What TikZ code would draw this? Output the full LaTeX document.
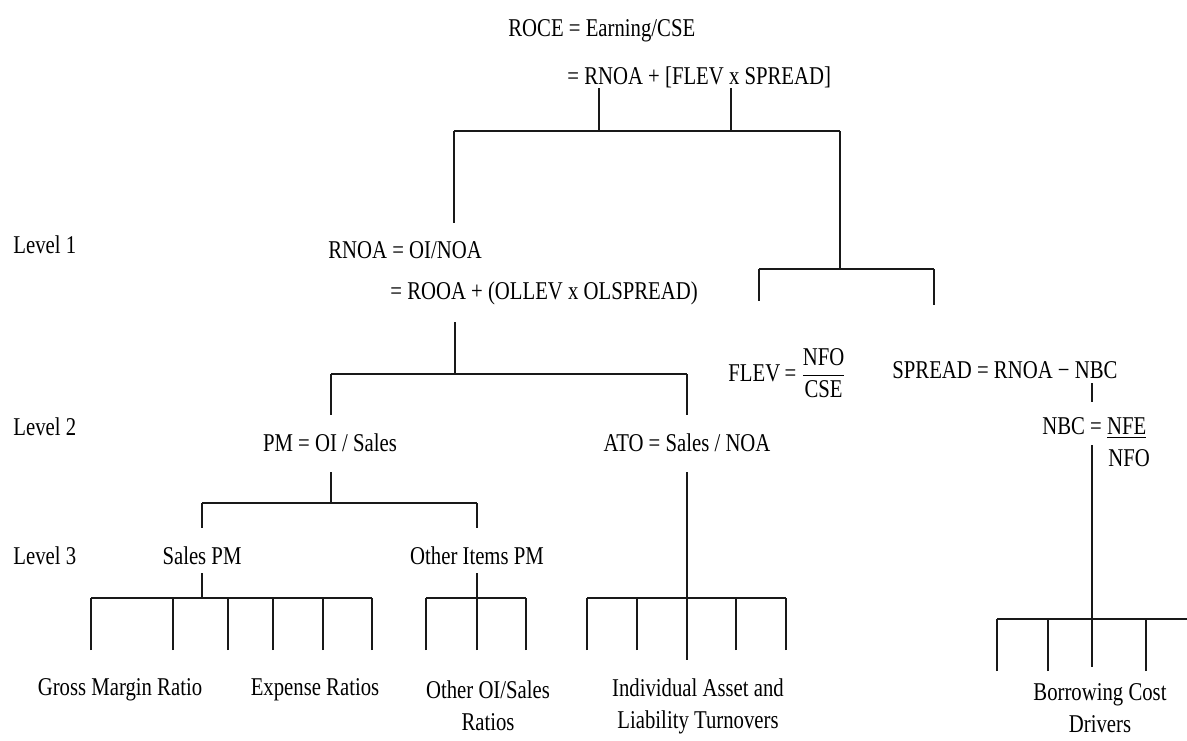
\documentclass[tikz,border=0pt]{standalone}
\usepackage{amsmath}
\usepackage{fontspec}
\setmainfont{Liberation Serif}[FakeStretch=0.81]
\usepackage{tikz}
\usetikzlibrary{positioning}

\begin{document}
\begin{tikzpicture}[
  x=0.5pt, y=-0.5pt,
  every node/.style={font=\fontsize{12.8}{16}\selectfont, inner sep=0pt, align=center},
  lbl/.style={anchor=west},
  link/.style={line width=0.8pt, black!90}
]
\useasboundingbox (0,0) rectangle (1187,740);

\node[lbl] (roce) at (508,31) {ROCE = Earning/CSE};
\node[lbl] (roceb) at (567,77) {= RNOA + [FLEV x SPREAD]};

\node[lbl] (lv1) at (13,245) {Level 1};
\node[lbl] (lv2) at (13,427) {Level 2};
\node[lbl] (lv3) at (13,556) {Level 3};

\node[lbl] (rnoa) at (328,250) {RNOA = OI/NOA};
\node[lbl] (rnoab) at (390,293) {= ROOA + (OLLEV x OLSPREAD)};
\node[lbl] (flev) at (728,373) {FLEV\,=\,$\dfrac{\text{NFO}}{\text{CSE}}$};
\node[lbl] (spread) at (892,370) {SPREAD = RNOA − NBC};
\node[lbl] (nbc) at (1042,428) {NBC = \underline{NFE}};
\node[lbl] (nbcd) at (1108,458) {NFO};

\node (pm) at (330,443) {PM = OI / Sales};
\node (ato) at (687,443) {ATO = Sales / NOA};
\node (spm) at (202,556) {Sales PM};
\node (oipm) at (477,556) {Other Items PM};

\node (gmr) at (120,690) {Gross Margin Ratio};
\node (exr) at (315,690) {Expense Ratios};
\node (ooi) at (488,706) {Other OI/Sales\\Ratios};
\node (ial) at (698,706) {Individual Asset and\\Liability Turnovers};
\node (bcd) at (1100,708) {Borrowing Cost\\Drivers};

% top split
\coordinate (t1) at (599,88);
\coordinate (t2) at (731,88);
\coordinate (tL) at (454,131);
\coordinate (tR) at (840,131);
\coordinate (rnoaTop) at (454,223);
\coordinate (fJ) at (840,269);
\coordinate (fL) at (759,269);
\coordinate (fR) at (934,269);
\coordinate (flevTop) at (759,301);
\coordinate (sprTop) at (934,305);
\draw[link] (tL) -- (tR);
\draw[link] (t1) -- (t1 |- tL);
\draw[link] (t2) -- (t2 |- tL);
\draw[link] (tL) -- (rnoaTop);
\draw[link] (tR) -- (fJ);
\draw[link] (fL) -- (fR);
\draw[link] (fL) -- (flevTop);
\draw[link] (fR) -- (sprTop);

% level 1 to level 2
\coordinate (r1) at (455,322);
\coordinate (oL) at (331,374);
\coordinate (oR) at (687,374);
\coordinate (pmTop) at (331,415);
\coordinate (atoTop) at (687,415);
\draw[link] (oL) -- (oR);
\draw[link] (r1) -- (r1 |- oL);
\draw[link] (oL) -- (pmTop);
\draw[link] (oR) -- (atoTop);

% level 2 to level 3
\coordinate (p1) at (331,472);
\coordinate (pL) at (202,503);
\coordinate (pR) at (477,503);
\coordinate (spmTop) at (202,528);
\coordinate (oipmTop) at (477,528);
\draw[link] (pL) -- (pR);
\draw[link] (p1) -- (p1 |- pL);
\draw[link] (pL) -- (spmTop);
\draw[link] (pR) -- (oipmTop);

% sales PM ratios
\coordinate (sJ) at (202,573);
\coordinate (sL) at (91,598);
\coordinate (sR) at (372,598);
\draw[link] (sL) -- (sR);
\draw[link] (sJ) -- (sJ |- sL);
\foreach \x in {91,173,228,273,323,372} {
  \coordinate (leg) at (\x,650);
  \draw[link] (leg) -- (leg |- sL);
}

% other items ratios
\coordinate (oJ) at (477,573);
\coordinate (qL) at (426,598);
\coordinate (qR) at (526,598);
\draw[link] (qL) -- (qR);
\draw[link] (oJ) -- (oJ |- qL);
\foreach \x in {426,477,526} {
  \coordinate (leg) at (\x,650);
  \draw[link] (leg) -- (leg |- qL);
}

% turnovers
\coordinate (aJ) at (687,472);
\coordinate (aEnd) at (687,660);
\coordinate (aL) at (587,598);
\coordinate (aR) at (786,598);
\draw[link] (aL) -- (aR);
\draw[link] (aJ) -- (aEnd);
\foreach \x in {587,637,736,786} {
  \coordinate (leg) at (\x,650);
  \draw[link] (leg) -- (leg |- aL);
}

% borrowing cost
\coordinate (n1) at (1092,383);
\coordinate (n2) at (1092,402);
\coordinate (n3) at (1092,445);
\coordinate (bEnd) at (1092,667);
\coordinate (bL) at (997,619);
\coordinate (bR) at (1187,619);
\draw[link] (n1) -- (n2);
\draw[link] (n3) -- (bEnd);
\draw[link] (bL) -- (bR);
\foreach \x in {997,1048,1146} {
  \coordinate (leg) at (\x,671);
  \draw[link] (leg) -- (leg |- bL);
}
\end{tikzpicture}
\end{document}
